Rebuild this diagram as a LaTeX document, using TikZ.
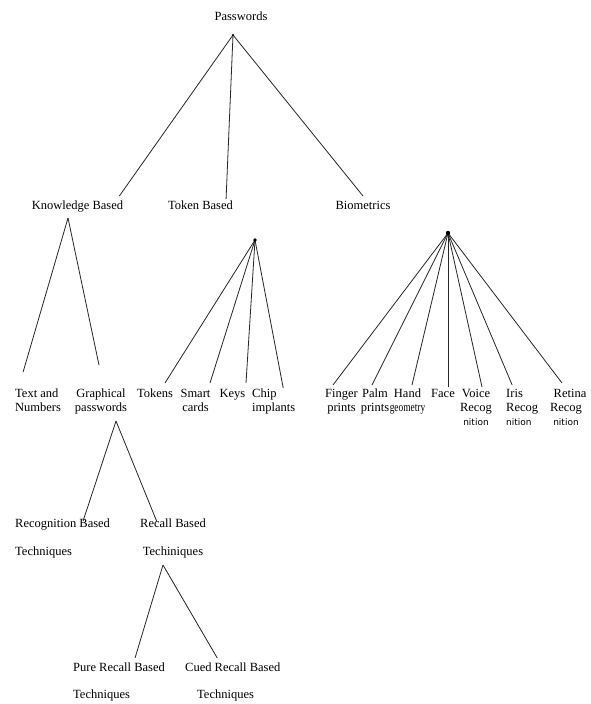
\documentclass[tikz,border=0pt]{standalone}
\usepackage{fontspec}
\setmainfont{Liberation Serif}
\newfontfamily\nitfont{DejaVu Sans}
\usepackage{graphicx}
\usepackage{tikz}
\usetikzlibrary{positioning, calc}

\tikzset{
    lbl/.style={inner sep=1pt, anchor=north, align=center, font=\fontsize{12.5}{14}\selectfont},
    lbll/.style={lbl, anchor=north west, align=left},
    link/.style={draw=black!85, line width=0.8pt},
    knot/.style={fill=black}
}

\begin{document}
\begin{tikzpicture}[x=1pt, y=-1pt]

        \useasboundingbox[fill=white] (0,0) rectangle (591,704);

        % top levels
        \node[lbl] (pw) at (241,11) {Passwords};
        \node[lbl] (kb) at (77.5,200) {Knowledge Based};
        \node[lbl] (tb) at (200.5,200) {Token Based};
        \node[lbl] (bio) at (363,200) {Biometrics};

        % leaves
        \node[lbll] (txt) at (14,388) {Text and\\Numbers};
        \node[lbl] (gp) at (101,388) {Graphical\\passwords};
        \node[lbl] (tok) at (155,388) {Tokens};
        \node[lbl] (smart) at (195.5,388) {Smart\\cards};
        \node[lbl] (keys) at (232.5,388) {Keys};
        \node[lbll] (chip) at (251,388) {Chip\\implants};
        \node[lbl] (finger) at (341.5,388) {Finger\\prints};
        \node[lbl] (palm) at (375,388) {Palm\\prints};
        \node[lbl] (hand) at (407.5,388) {Hand\\\scalebox{0.75}[1]{geometry}};
        \node[lbl] (face) at (443,388) {Face};
        \node[lbl] (voice) at (476,388) {Voice\\Recog\\{\nitfont\fontsize{9}{14}\selectfont nition}};
        \node[lbll] (iris) at (505,388) {Iris\\Recog\\{\nitfont\fontsize{9}{14}\selectfont nition}};
        \node[lbl] (retina) at (566,388) {\hspace*{8pt}Retina\\Recog\\{\nitfont\fontsize{9}{14}\selectfont nition}};

        \node[lbll] (rec) at (14,518) {Recognition Based\\[14pt]Techniques};
        \node[lbl] (recall) at (173,518) {Recall Based\\[14pt]Techiniques};
        \node[lbll] (pure) at (72,662) {Pure Recall Based\\[13pt]Techniques};
        \node[lbll] (cued) at (184,662) {Cued Recall Based\\[13pt]\hspace*{12pt}Techniques};

        % branch points
        \coordinate (pw-top) at (233,35);
        \coordinate (kb-top) at (68,218);
        \coordinate (tb-top) at (255,240);
        \coordinate (bio-top) at (448,233);
        \coordinate (gp-top) at (116,421);
        \coordinate (rc-top) at (163,565);

        \draw[link] (pw-top) -- ([xshift=-5pt,yshift=4pt]kb.north east);
        \draw[link] (pw-top) -- ([xshift=-8pt,yshift=1pt]tb.north east);
        \draw[link] (pw-top) -- ([yshift=4pt]bio.north);

        \draw[link] (kb-top) -- ([xshift=-15pt,yshift=16pt]txt.north);
        \draw[link] (kb-top) -- ([xshift=-2pt,yshift=23pt]gp.north);

        \draw[link] (tb-top) -- ([xshift=10pt,yshift=5pt]tok.north);
        \draw[link] (tb-top) -- ([xshift=14.5pt,yshift=5pt]smart.north);
        \draw[link] (tb-top) -- ([xshift=13.5pt,yshift=5pt]keys.north);
        \draw[link] (tb-top) -- ([xshift=9.5pt]chip.north);

        \draw[link] (bio-top) -- ([xshift=-8.5pt,yshift=3pt]finger.north);
        \draw[link] (bio-top) -- ([xshift=-3pt,yshift=3pt]palm.north);
        \draw[link] (bio-top) -- ([xshift=4.5pt,yshift=3pt]hand.north);
        \draw[link] (bio-top) -- ([xshift=5pt,yshift=1pt]face.north);
        \draw[link] (bio-top) -- ([xshift=6pt,yshift=1pt]voice.north);
        \draw[link] (bio-top) -- ([xshift=-10pt,yshift=3pt]iris.north);
        \draw[link] (bio-top) -- ([xshift=-4pt,yshift=5pt]retina.north);

        \draw[link] (gp-top) -- ([xshift=20.5pt,yshift=-3pt]rec.north);
        \draw[link] (gp-top) -- ([xshift=-16pt,yshift=-4pt]recall.north);

        \draw[link] (rc-top) -- ([xshift=16pt,yshift=4pt]pure.north);
        \draw[link] (rc-top) -- ([xshift=-15.5pt,yshift=4pt]cued.north);

        \fill[knot] (pw-top) circle (1.2);
        \fill[knot] (tb-top) circle (1.8);
        \fill[knot] (bio-top) circle (2.2);
        \end{tikzpicture}
\end{document}
